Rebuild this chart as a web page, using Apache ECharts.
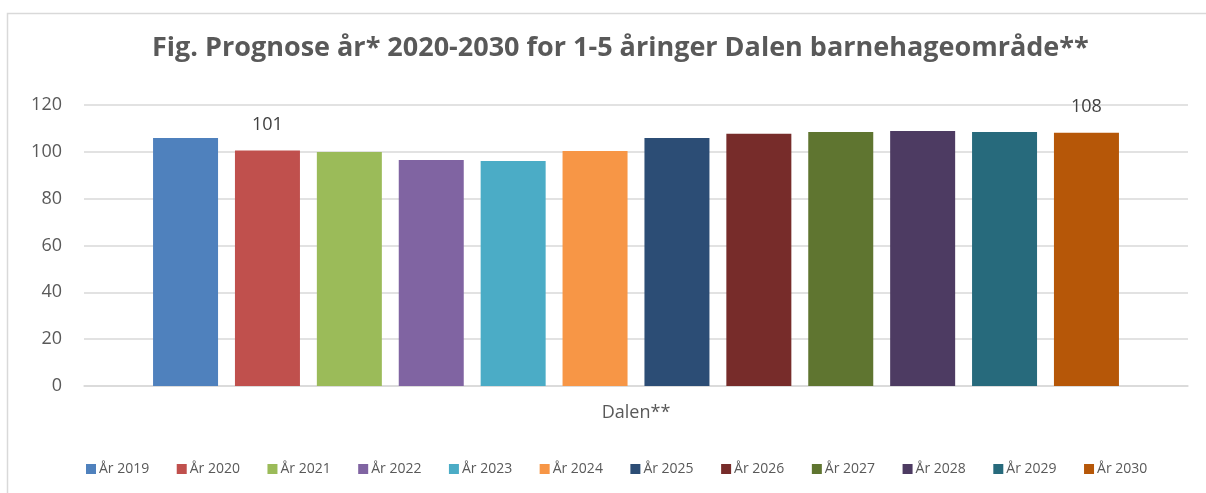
<!DOCTYPE html>
<html>
<head>
    <meta charset="utf-8">
    <title>Prognose Dalen</title>
    <script src="https://cdn.jsdelivr.net/npm/echarts@6/dist/echarts.min.js"></script>
    <style>
        html, body { margin: 0; padding: 0; background: #fff; }
        #main { width: 1206px; height: 493px; }
    </style>
</head>
<body>
    <div id="main"></div>
    <script type="text/javascript">
        // data
        var categories = ['Dalen**'];
        var years = ['År 2019', 'År 2020', 'År 2021', 'År 2022', 'År 2023', 'År 2024',
                     'År 2025', 'År 2026', 'År 2027', 'År 2028', 'År 2029', 'År 2030'];
        var values = [105.9, 100.6, 99.9, 96.5, 96.1, 100.4, 105.9, 107.7, 108.5, 108.9, 108.5, 108.1];
        var colors = ['#4F81BD', '#C0504D', '#9BBB59', '#8064A2', '#4BACC6', '#F79646',
                      '#2C4D75', '#772C2A', '#5F7530', '#4D3B62', '#276A7C', '#B65708'];
        var labelled = ['År 2020', 'År 2030'];   // only these bars carry a value label
        var yTicks = [0, 20, 40, 60, 80, 100, 120];

        var font = '"Open Sans", "Noto Sans", sans-serif';

        var series = [];
        for (var i = 0; i < years.length; i++) {
            series.push({
                name: years[i],
                type: 'bar',
                data: [values[i]],
                barWidth: 65,
                barGap: '26%',
                itemStyle: { color: colors[i] },
                label: {
                    show: labelled.indexOf(years[i]) >= 0,
                    position: 'top',
                    distance: 17,
                    color: '#404040',
                    fontFamily: font,
                    fontSize: 18,
                    formatter: function (p) { return Math.round(p.value); }
                }
            });
        }

        var myChart = echarts.init(document.getElementById('main'));
        myChart.setOption({
            animation: false,
            color: colors,
            title: {
                text: 'Fig. Prognose år* 2020-2030 for 1-5 åringer Dalen barnehageområde**',
                left: 147,
                top: 30,
                textStyle: {
                    color: '#595959',
                    fontFamily: font,
                    fontWeight: 'bold',
                    fontSize: 27
                }
            },
            legend: {
                data: years,
                left: 81,
                top: 457,
                itemWidth: 10,
                itemHeight: 10,
                itemGap: 27.5,
                icon: 'rect',
                textStyle: {
                    color: '#595959',
                    fontFamily: font,
                    fontSize: 14,
                    padding: [0, 0, 0, -2]
                }
            },
            grid: {
                left: 84,
                right: 18,
                top: 105,
                bottom: 107,
                containLabel: false
            },
            xAxis: {
                type: 'category',
                data: categories,
                axisLine: { show: true, lineStyle: { color: '#d9d9d9', width: 1.5 } },
                axisTick: { show: false },
                axisLabel: {
                    color: '#595959',
                    fontFamily: font,
                    fontSize: 18,
                    margin: 18
                }
            },
            yAxis: {
                type: 'value',
                min: yTicks[0],
                max: yTicks[yTicks.length - 1],
                interval: yTicks[1] - yTicks[0],
                axisLine: { show: false },
                axisTick: { show: false },
                splitLine: { lineStyle: { color: '#d9d9d9', width: 1.5 } },
                axisLabel: {
                    color: '#595959',
                    fontFamily: font,
                    fontSize: 18,
                    margin: 22
                }
            },
            graphic: [{
                type: 'polyline',
                silent: true,
                shape: { points: [[7.5, 500], [7.5, 13.5], [1210, 13.5]] },
                style: { stroke: '#d9d9d9', lineWidth: 1.5, fill: null }
            }],
            series: series
        });
    </script>
</body>
</html>
